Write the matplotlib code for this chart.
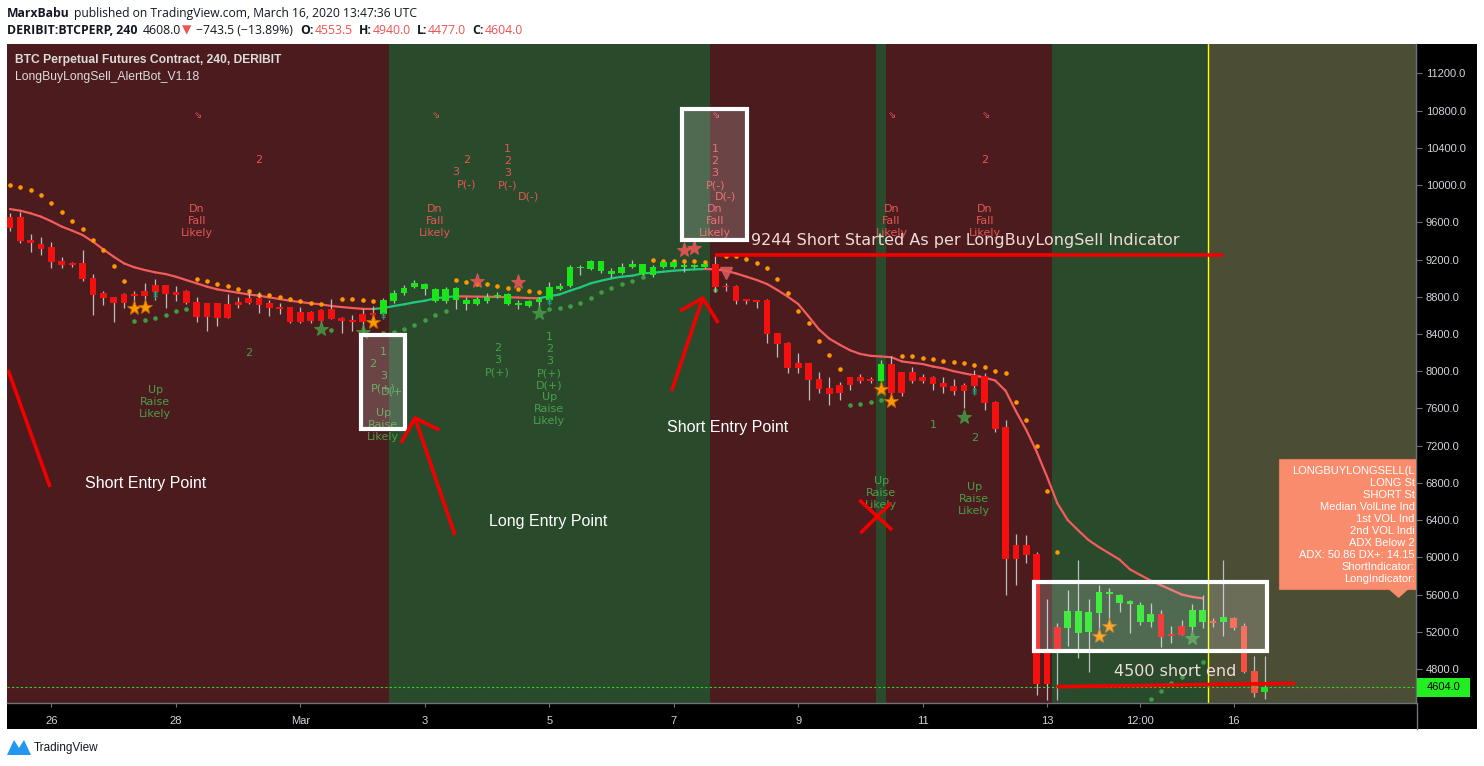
import numpy as np
import matplotlib
matplotlib.use("Agg")
import matplotlib.pyplot as plt
from matplotlib.patches import Rectangle, Polygon
from matplotlib.collections import LineCollection

W, H = 1484, 766

# ---- 4h candles, index 0 = Feb 25 08:00 UTC ----
opens = [9660, 9660, 9409, 9366, 9334, 9184, 9162, 9162, 9001, 8840, 8797, 8829, 8829, 8861, 8922, 8922,
         8850, 8861, 8743, 8732, 8732, 8718, 8743, 8790, 8790, 8732, 8693, 8689, 8632, 8636, 8657, 8668,
         8571, 8550, 8614, 8625, 8614, 8754, 8836, 8901, 8883, 8757, 8757, 8765, 8718, 8722, 8757, 8793,
         8722, 8707, 8704, 8740, 8765, 8883, 8919, 9105, 9098, 9080, 9044, 9058, 9116, 9044, 9033, 9116,
         9123, 9123, 9123, 9123, 9152, 8915, 8915, 8765, 8754, 8765, 8407, 8299, 8084, 8084, 7912, 7816,
         7848, 7934, 7934, 7912, 7898, 8077, 7991, 7991, 7934, 7934, 7869, 7841, 7848, 7959, 7950, 7670,
         7397, 6132, 6132, 6040, 4968, 5248, 5244, 5190, 5201, 5405, 5602, 5513, 5495, 5308, 5308, 5391,
         5176, 5262, 5255, 5308, 5316, 5308, 5348, 5262, 4778, 4553.5]
highs = [9696, 9714, 9474, 9438, 9388, 9223, 9170, 9302, 9044, 8861, 8797, 8843, 8861, 8944, 8990, 8922,
         8915, 8872, 8800, 8732, 8736, 8825, 8800, 8850, 8850, 8765, 8732, 8693, 8693, 8643, 8671, 8775,
         8585, 8603, 8664, 8704, 8790, 8872, 8926, 8980, 8944, 8890, 8901, 8901, 8800, 8800, 8836, 8854,
         8836, 8765, 8765, 8800, 8962, 8944, 9141, 9141, 9195, 9184, 9105, 9159, 9195, 9152, 9141, 9184,
         9195, 9159, 9152, 9162, 9238, 8944, 8926, 8775, 8765, 8780, 8407, 8317, 8192, 8084, 7995, 7934,
         7887, 7941, 7970, 7941, 8120, 8163, 7991, 8048, 7970, 7948, 7934, 7912, 7869, 8013, 7977, 7680,
         7475, 6250, 6240, 6057, 5548, 5290, 5649, 5971, 5548, 5702, 5667, 5606, 5540, 5523, 5505, 5434,
         5262, 5326, 5498, 5595, 5344, 5971, 5362, 5290, 4939, 4940]
lows = [9510, 9373, 9284, 9248, 9112, 9112, 9120, 8972, 8603, 8711, 8532, 8675, 8722, 8747, 8765, 8682,
        8757, 8722, 8532, 8435, 8489, 8575, 8682, 8722, 8628, 8596, 8614, 8521, 8521, 8514, 8525, 8557,
        8413, 8435, 8395, 8550, 8600, 8729, 8818, 8890, 8818, 8747, 8729, 8668, 8657, 8711, 8729, 8783,
        8711, 8665, 8693, 8693, 8747, 8872, 8908, 9033, 9087, 9058, 9015, 9044, 9105, 9033, 9015, 9105,
        9105, 9069, 9105, 9105, 8854, 8865, 8722, 8722, 8675, 8299, 8149, 7984, 7984, 7690, 7769, 7637,
        7690, 7798, 7869, 7869, 7762, 7744, 7733, 7869, 7869, 7798, 7762, 7744, 7601, 7780, 7580, 7350,
        5595, 5702, 5942, 4520, 4467, 4467, 5047, 4914, 4771, 5118, 5333, 5416, 5190, 5272, 5255, 5040,
        5083, 5165, 5201, 5237, 5255, 5158, 5219, 4753, 4502, 4477]
closes = [9542, 9398, 9373, 9313, 9176, 9144, 9144, 8994, 8818, 8790, 8732, 8732, 8811, 8811, 8850, 8829,
          8818, 8732, 8585, 8578, 8575, 8575, 8711, 8732, 8711, 8682, 8671, 8532, 8532, 8539, 8539, 8564,
          8542, 8532, 8532, 8607, 8765, 8844, 8894, 8944, 8937, 8883, 8883, 8894, 8765, 8775, 8800, 8818,
          8829, 8736, 8754, 8772, 8901, 8915, 9123, 9119, 9184, 9184, 9076, 9123, 9152, 9152, 9116, 9177,
          9177, 9141, 9141, 9152, 8908, 8904, 8758, 8757, 8747, 8400, 8292, 8038, 8038, 7905, 7812, 7755,
          7769, 7848, 7898, 7898, 8077, 7769, 7769, 7898, 7898, 7862, 7834, 7791, 7791, 7841, 7662, 7382,
          5985, 5982, 6025, 4642, 4642, 4968, 5423, 5423, 5412, 5627, 5627, 5595, 5530, 5487, 5391, 5147,
          5158, 5169, 5434, 5434, 5298, 5355, 5244, 4771, 4545, 4604]

# trend line of the indicator (one value per candle, 0..115)
trend_line = [9742, 9724, 9696, 9660, 9610, 9553, 9510, 9463, 9391, 9309, 9230, 9158, 9116, 9087, 9062, 9044,
              9015, 8979, 8944, 8908, 8879, 8861, 8843, 8825, 8811, 8793, 8775, 8757, 8743, 8729, 8718, 8700,
              8689, 8679, 8670, 8668, 8678, 8700, 8718, 8740, 8757, 8783, 8795, 8805, 8803, 8801, 8800, 8798,
              8795, 8791, 8786, 8783, 8805, 8825, 8865, 8901, 8944, 8972, 8997, 9015, 9026, 9051, 9058, 9069,
              9080, 9087, 9094, 9098, 9094, 9080, 9051, 9016, 8980, 8937, 8872, 8801, 8722, 8590, 8450, 8350,
              8285, 8225, 8185, 8165, 8158, 8150, 8105, 8090, 8077, 8050, 8030, 8000, 7977, 7955, 7930, 7900,
              7790, 7570, 7368, 7135, 6866, 6580, 6400, 6290, 6186, 6110, 6043, 5975, 5870, 5810, 5750, 5700,
              5650, 5600, 5575, 5559]

# parabolic SAR dots (None = no dot)
sar_above = ([10000, 9975, 9947, 9893, 9803, 9707, 9610, 9527, 9406, 9298, 9126, 8969] + [None] * 6 +
             [8987, 8969, 8933, 8915, 8883, 8858, 8822, 8815, 8793, 8775, 8750, 8729, 8718] + [None] +
             [8775, 8772, 8761, 8752] + [None] * 7 +
             [8980, 8962, 8937, 8937, 8915, 8895, 8880, 8865, 8856] + [None] * 10 +
             [9193, 9184, 9184, 9180, 9180, 9173] + [None] +
             [9238, 9238, 9202, 9159, 9105, 8987, 8836, 8650, 8514, 8321, 8170, 8020] + [None] * 5 +
             [8160, 8160, 8145, 8127, 8110, 8102, 8092, 8063, 8041, 7998, 7977, 7665, 7473, 7192, 6709, 6053] +
             [None] * 20)
sar_below = ([None] * 12 + [8535, 8550, 8571, 8600, 8643, 8664] + [None] * 13 + [8442] + [None] * 4 +
             [8406, 8417, 8450, 8496, 8550, 8600, 8646] + [None] * 9 +
             [8666, 8675, 8699, 8732, 8783, 8847, 8890, 8938, 8974, 9008] + [None] * 6 + [8869] +
             [None] * 12 + [7633, 7644, 7665, 7687] + [None] * 25 +
             [4474, 4563, 4646, 4717, None, 4871] + [None] * 6)

# background state zones (candle index bounds)
zones = [(-1, 36.5, 'short'), (36.5, 67.5, 'long'), (67.5, 83.5, 'short'), (83.5, 84.5, 'long'),
         (84.5, 100.5, 'short'), (100.5, 115.5, 'long'), (115.5, 140, 'live')]
zone_colors = {'short': '#4b1b1d', 'long': '#2a4a2c', 'live': '#4b4e35'}
session_line = 115.5

# markers
orange_stars = [(12, 8679), (13, 8690), (35, 8532), (84, 7805), (85, 7680), (105, 5158), (106, 5265)]
green_stars = [(30, 8450), (34, 8424), (51, 8622), (92, 7511), (114, 5130)]
red_stars = [(45, 8972), (49, 8962), (65, 9302), (66, 9320)]
down_marks = [(69, 9052)]
up_marks = [(14, 8808), (36, 8579), (52, 8730), (93, 7769)]
top_arrows = [18, 41, 68, 85, 94]
top_arrow_price = 10753

# indicator text labels: (candle, price of first line, text)
red_labels = [(18, 9743, "Dn\nFall\nLikely"), (24, 10269, "2"), (41, 9743, "Dn\nFall\nLikely"),
              (43, 10140, "3"), (44, 10269, "2"), (44, 10001, "P(-)"), (48, 10387, "1\n2\n3\nP(-)"),
              (50, 9872, "D(-)"), (68, 10387, "1\n2\n3\nP(-)"), (69, 9872, "D(-)"),
              (68, 9743, "Dn\nFall\nLikely"), (85, 9743, "Dn\nFall\nLikely"), (94, 10269, "2"),
              (94, 9743, "Dn\nFall\nLikely")]
green_labels = [(14, 7798, "Up\nRaise\nLikely"), (23, 8195, "2"), (36, 8206, "1"), (35, 8077, "2"),
                (36, 7948, "3\nP(+)"), (37, 7787, "D(+)"), (36, 7551, "Up\nRaise\nLikely"),
                (47, 8249, "2\n3\nP(+)"), (52, 8367, "1\n2\n3\nP(+)\nD(+)\nUp\nRaise\nLikely"),
                (84, 6820, "Up\nRaise\nLikely"), (89, 7422, "1"), (93, 7282, "2"),
                (93, 6756, "Up\nRaise\nLikely")]
line_step = 129

# hand drawings on the chart (candle, price)
white_boxes = [((33.85, 7379), (38.1, 8389)), ((64.8, 9410), (71.1, 10817)), ((98.75, 4993), (121.2, 5735))]
red_strokes = [[(-0.19, 8013), (3.86, 6756)],
               [(42.9, 6240), (39.05, 7497)], [(37.7, 7228), (39.05, 7497), (41.4, 7368)],
               [(63.8, 7787), (66.8, 8786)], [(64.6, 8647), (66.8, 8786), (68.3, 8518)],
               [(81.9, 6616), (85.05, 6294)], [(84.96, 6584), (82.0, 6261)],
               [(68.0, 9244), (117.0, 9244)],
               [(100.96, 4610), (123.9, 4646)]]
notes = [(7.2, 6788, "Short Entry Point", 11.5, 'Liberation Sans'),
         (46.2, 6380, "Long Entry Point", 11.5, 'Liberation Sans'),
         (63.4, 7400, "Short Entry Point", 11.5, 'Liberation Sans'),
         (71.5, 9399, "9244 Short Started As per LongBuyLongSell Indicator", 11.5, 'DejaVu Sans'),
         (106.5, 4778, "4500 short end", 11.5, 'DejaVu Sans')]

info_lines = ["LONGBUYLONGSELL(L", "LONG St", "SHORT St", "Median VolLine Ind", "1st VOL Ind",
              "2nd VOL Indi", "ADX Below 2", "ADX: 50.86 DX+: 14.15", "ShortIndicator:", "LongIndicator:"]

tick_pos = [4, 16, 28, 40, 52, 64, 76, 88, 100, 109, 118]
tick_text = ['26', '28', 'Mar', '3', '5', '7', '9', '11', '13', '12:00', '16']
price_ticks = list(range(4800, 11201, 400))
last_price = closes[-1]

# ---------------------------------------------------------------
fig = plt.figure(figsize=(W / 100, H / 100), dpi=100, facecolor='white')

# black price / time scale area, behind the chart
fig.patches.append(Rectangle((7 / W, 1 - 729 / H), 1470 / W, 685 / H, transform=fig.transFigure,
                             facecolor='black', edgecolor='none', zorder=-10))

ax = fig.add_axes([7 / W, 1 - 703 / H, 1409 / W, 659 / H])
ax.set_xlim(-0.29, 135.58)
ax.set_ylim(4434.7, 11515.6)
ax.set_facecolor(zone_colors['live'])

for a, b, k in zones:
    ax.axvspan(a, b, color=zone_colors[k], lw=0, zorder=0)
ax.axvline(session_line, color='#ffff00', lw=1, zorder=1)

# trend line, green while rising, red while falling
n = len(trend_line)
segs = [[(i, trend_line[i]), (i + 1, trend_line[i + 1])] for i in range(n - 1)]
cols = ['#21c97c' if trend_line[i + 1] > trend_line[i] else '#f25c5c' for i in range(n - 1)]
ax.add_collection(LineCollection(segs, colors=cols, linewidths=1.6, zorder=2, capstyle='round'))

idx = np.arange(len(opens))
up = np.array(sar_above, dtype=float)
dn = np.array(sar_below, dtype=float)
ax.plot(idx, up, 'o', ms=3.3, color='#ff9800', mec='none', zorder=3)
ax.plot(idx, dn, 'o', ms=3.3, color='#3f9c42', mec='none', zorder=3)

# candles
o = np.array(opens, dtype=float)
c = np.array(closes, dtype=float)
bull = c >= o
bcol = np.where(bull, '#19e619', np.where(idx > session_line, '#f5503f', '#f51010'))
ax.vlines(idx, lows, highs, color='#bdbdbd', lw=0.9, zorder=3)
bottom = np.minimum(o, c)
height = np.maximum(np.abs(c - o), 14)
ax.bar(idx, height, bottom=bottom, width=0.65, color=bcol, lw=0, zorder=4)

# markers
for pts, fc, al in [(orange_stars, '#ff9800', 1.0), (green_stars, '#45a348', 0.8), (red_stars, '#f05656', 0.85)]:
    xs, ys = zip(*pts)
    ax.plot(xs, ys, '*', ms=11, color=fc, mec='#c46a00' if fc == '#ff9800' else fc, mew=0.6,
            alpha=al, zorder=5)
xs, ys = zip(*down_marks)
ax.plot(xs, ys, 'v', ms=8, color='#e05a5a', alpha=0.85, zorder=5)
for x, y in up_marks:
    ax.text(x, y, '\u21de', color='#1ba57c', fontsize=8, ha='center', va='center', zorder=5,
            family='DejaVu Sans')
for x in top_arrows:
    ax.text(x, top_arrow_price, '\u21d8', color='#e05555', fontsize=7, ha='center', va='center',
            zorder=5, family='DejaVu Sans')

for labels, col in [(red_labels, '#e35757'), (green_labels, '#4a9f4c')]:
    for x, y, s in labels:
        for k, line in enumerate(s.split('\n')):
            ax.text(x, y - k * line_step, line, color=col, fontsize=8, ha='center', va='center',
                    family='DejaVu Sans', zorder=5)

# drawings
for (x0, y0), (x1, y1) in white_boxes:
    ax.add_patch(Rectangle((x0, y0), x1 - x0, y1 - y0, facecolor=(1, 1, 1, 0.18), edgecolor='white',
                           lw=3, zorder=6))
for st in red_strokes:
    xs, ys = zip(*st)
    ax.plot(xs, ys, color='#f20000', lw=2.6, solid_capstyle='butt', zorder=7)
for x, y, s, fs, fam in notes:
    col = 'white' if fam == 'Liberation Sans' else '#f0dada'
    ax.text(x, y, s, color=col, fontsize=fs, family=fam, ha='left', va='center', zorder=8)

# indicator info box (cut by the price scale)
ax.add_patch(Rectangle((122.4, 5660), 20, 1396, facecolor='#fa8c6e', edgecolor='#e57a5e', lw=0.8,
                       zorder=9, clip_on=True))
ax.add_patch(Polygon([(132.9, 5662), (134.9, 5662), (133.9, 5563)], closed=True, facecolor='#fa8c6e',
                     edgecolor='none', zorder=9))
for k, line in enumerate(info_lines):
    ax.text(135.45, 6925 - k * line_step, line, color='white', fontsize=8, family='Liberation Sans',
            ha='right', va='center', zorder=10)

# last price line
ax.axhline(last_price, color='#2fd82f', lw=0.8, ls=(0, (2, 2)), zorder=6)

# axes styling
for s in ['top', 'left']:
    ax.spines[s].set_visible(False)
for s in ['right', 'bottom']:
    ax.spines[s].set_color('#6f727c')
    ax.spines[s].set_linewidth(1)
ax.yaxis.tick_right()
ax.set_yticks(price_ticks)
ax.set_yticklabels([f"{p:.1f}" for p in price_ticks])
ax.set_xticks(tick_pos)
ax.set_xticklabels(tick_text)
ax.tick_params(axis='y', colors='#6f727c', labelcolor='#d1d4dc', labelsize=8, length=4, pad=3)
ax.tick_params(axis='x', colors='#6f727c', labelcolor='#d1d4dc', labelsize=8, length=3, pad=6)
for t in ax.get_xticklabels() + ax.get_yticklabels():
    t.set_family('Liberation Sans')

# last price tag on the scale
ypix = ax.transData.transform((0, last_price))[1]
fig.patches.append(Rectangle((1417 / W, (ypix - 9.5) / H), 53 / W, 19 / H, transform=fig.transFigure,
                             facecolor='#22ee22', edgecolor='none', zorder=5))
fig.text(1443.5 / W, ypix / H, f"{last_price:.1f}", color='black', fontsize=8, family='Liberation Sans',
         ha='center', va='center', zorder=6)
fig.add_artist(plt.Line2D([1416.5 / W, 1416.5 / W], [1 - 729 / H, 1 - 703 / H], color='#6f727c', lw=1))

# chart titles
fig.text(15 / W, 1 - 60 / H, "BTC Perpetual Futures Contract, 240, DERIBIT", color='#dcdcdc', fontsize=8.7,
         fontweight='bold', family='Liberation Sans', va='center')
fig.text(15 / W, 1 - 77 / H, "LongBuyLongSell_AlertBot_V1.18", color='#dcdcdc', fontsize=8.7,
         family='Liberation Sans', va='center')

# header
rend = fig.canvas.get_renderer()
dark, red = '#131722', '#ef5350'


def header(parts, x, ybase, size):
    for s, col, bold, gap in parts:
        t = fig.text(x / W, 1 - ybase / H, s, color=col, fontsize=size, fontweight='bold' if bold else 'normal',
                     family=['Open Sans', 'DejaVu Sans'], va='baseline', ha='left')
        x = t.get_window_extent(rend).x1 + gap


header([("MarxBabu", dark, True, 4),
        ("published on TradingView.com, March 16, 2020 13:47:36 UTC", dark, False, 0)], 7, 17, 8.7)
header([("DERIBIT:BTCPERP, 240", dark, True, 5), ("4608.0", dark, False, 1), ("\u25bc", red, False, 5),
        ("\u2212743.5 (\u221213.89%)", dark, False, 7), ("O:", dark, True, 1), ("4553.5", red, False, 6),
        ("H:", dark, True, 1), ("4940.0", red, False, 6), ("L:", dark, True, 1), ("4477.0", red, False, 6),
        ("C:", dark, True, 1), ("4604.0", red, False, 0)], 7, 34, 8.8)

# TradingView logo
fig.patches.append(Polygon([(7 / W, 1 - 755 / H), (14 / W, 1 - 740 / H), (19 / W, 1 - 748 / H),
                            (24 / W, 1 - 740 / H), (31 / W, 1 - 755 / H)], closed=True,
                           transform=fig.transFigure, facecolor='#2196f3', edgecolor='none'))
fig.text(34 / W, 1 - 747.5 / H, "TradingView", color=dark, fontsize=8.5, family='Liberation Sans',
         va='center')

fig.savefig("out.png", dpi=100, facecolor='white')
